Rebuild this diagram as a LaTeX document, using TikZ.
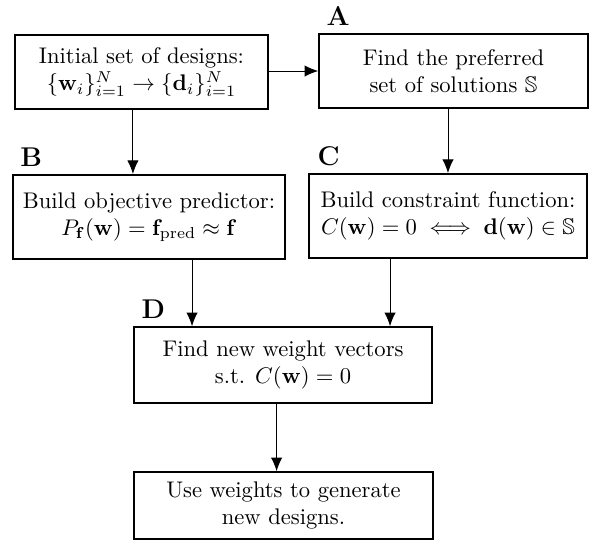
\documentclass[tikz,border=0pt]{standalone}
\usepackage{amsmath}
\usepackage{amssymb}
\usepackage{tikz}
\usetikzlibrary{arrows.meta, positioning}

\begin{document}
\begin{tikzpicture}[
    blk/.style={draw, thick, align=center, inner sep=2pt},
    tag/.style={font=\large\bfseries, inner sep=0pt},
    arr/.style={-{Latex[length=6pt, width=5pt]}},
]
    \useasboundingbox (0, 0) rectangle (9.221, -8.413);

    % boxes of the workflow
    \node[blk, minimum width=3.93cm, minimum height=1.15cm] (init) at (2.200, -1.120)
        {Initial set of designs:\\ $\{\mathbf{w}_i\}_{i=1}^N \rightarrow \{\mathbf{d}_i\}_{i=1}^N$};
    \node[blk, minimum width=4.18cm, minimum height=1.15cm] (prefset) at (7.052, -1.104)
        {Find the preferred\\ set of solutions $\mathbb{S}$};
    \node[blk, minimum width=4.23cm, minimum height=1.31cm] (objpred) at (2.317, -3.374)
        {Build objective predictor:\\ $P_{\mathbf{f}}(\mathbf{w}) = \mathbf{f}_{\text{pred}} \approx \mathbf{f}$};
    \node[blk, minimum width=4.32cm, minimum height=1.31cm] (constr) at (6.966, -3.359)
        {Build constraint function:\\ $C(\mathbf{w}) = 0 \iff \mathbf{d}(\mathbf{w}) \in \mathbb{S}$};
    \node[blk, minimum width=4.63cm, minimum height=1.18cm] (newweights) at (4.401, -5.676)
        {Find new weight vectors\\ s.t. $C(\mathbf{w}) = 0$};
    \node[blk, minimum width=4.65cm, minimum height=1.04cm] (gendesigns) at (4.408, -7.861)
        {Use weights to generate\\ new designs.};

    % step letters
    \node[tag, above right=3pt and 3.5pt of prefset.north west] (tagA) {A};
    \node[tag, above right=3pt and 3.5pt of objpred.north west] (tagB) {B};
    \node[tag, above right=3pt and 4pt of constr.north west] (tagC) {C};
    \node[tag, above right=3pt and 3.5pt of newweights.north west] (tagD) {D};

    % connectors
    \draw[arr] (init.east |- prefset.west) -- (prefset.west);
    \draw[arr] ([xshift=-0.25cm]objpred.north |- init.south) -- ([xshift=-0.25cm]objpred.north);
    \draw[arr] (prefset.south -| constr.north) -- (constr.north);
    \draw[arr] ([xshift=-1.415cm]newweights.north |- objpred.south) -- ([xshift=-1.415cm]newweights.north);
    \draw[arr] ([xshift=1.664cm]newweights.north |- constr.south) -- ([xshift=1.664cm]newweights.north);
    \draw[arr] ([xshift=-0.1cm]newweights.south) -- ([xshift=-0.1cm]newweights.south |- gendesigns.north);
\end{tikzpicture}
\end{document}
